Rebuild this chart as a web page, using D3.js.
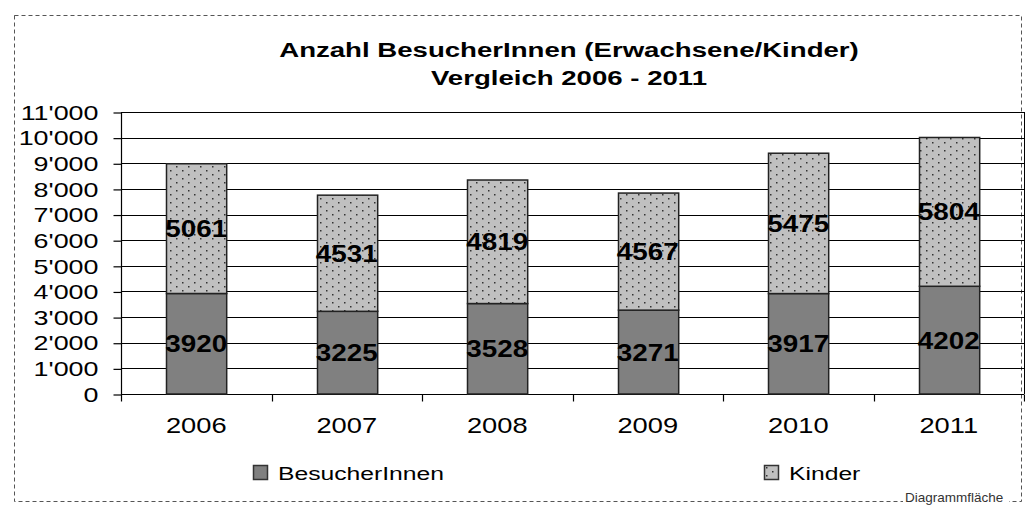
<!DOCTYPE html>
<html>
<head>
<meta charset="utf-8">
<script src="https://cdn.jsdelivr.net/npm/d3@7"></script>
<style>
  body { margin: 0; background: #fff; }
  svg { display: block; font-family: "Liberation Sans", Arial, sans-serif; }
</style>
</head>
<body>
<svg id="chart" width="1025" height="509"></svg>
<script>
const years = ["2006", "2007", "2008", "2009", "2010", "2011"];
const besucher = [3920, 3225, 3528, 3271, 3917, 4202];
const kinder = [5061, 4531, 4819, 4567, 5475, 5804];
const yTicks = [0, 1000, 2000, 3000, 4000, 5000, 6000, 7000, 8000, 9000, 10000, 11000];
const seriesNames = ["BesucherInnen", "Kinder"];

const svg = d3.select("#chart");
const m = { left: 121, right: 1024, top: 112, bottom: 394 };

// the original text is drawn a bit wide, stretch horizontally around the anchor
const stretch = (sel, s) => {
  sel.each(function () {
    const t = d3.select(this);
    const ax = +t.attr("x") || 0;
    t.attr("transform", `translate(${ax},0) scale(${s},1) translate(${-ax},0)`);
  });
};

// dotted fill like the old spreadsheet pattern
const defs = svg.append("defs");
const pat = defs.append("pattern")
  .attr("id", "dots")
  .attr("patternUnits", "userSpaceOnUse")
  .attr("width", 12).attr("height", 8);
pat.append("rect").attr("width", 12).attr("height", 8).attr("fill", "#c0c0c0");
pat.append("rect").attr("x", 2).attr("y", 2).attr("width", 1.5).attr("height", 1.5).attr("fill", "#333");
pat.append("rect").attr("x", 8).attr("y", 6).attr("width", 1.5).attr("height", 1.5).attr("fill", "#333");

// outer dashed frame (Diagrammfläche)
svg.append("rect")
  .attr("x", 14.5).attr("y", 15.5)
  .attr("width", 1007).attr("height", 486)
  .attr("fill", "none")
  .attr("stroke", "#555")
  .attr("stroke-dasharray", "4,3");

svg.append("rect")
  .attr("x", 903).attr("y", 489)
  .attr("width", 106).attr("height", 18)
  .attr("fill", "#fff");
svg.append("text")
  .attr("x", 905).attr("y", 502)
  .attr("font-size", 13.5)
  .attr("fill", "#333")
  .text("Diagrammfläche");

// title
const title = svg.append("text")
  .attr("x", 569)
  .attr("text-anchor", "middle")
  .attr("font-weight", "bold")
  .attr("font-size", 20)
  .attr("fill", "#000");
title.append("tspan").attr("x", 569).attr("y", 57).text("Anzahl BesucherInnen (Erwachsene/Kinder)");
title.append("tspan").attr("x", 569).attr("y", 85).text("Vergleich 2006 - 2011");
stretch(title, 1.38);

const x = d3.scaleBand().domain(years).range([m.left, m.right]).paddingInner(0.6).paddingOuter(0.3);
const y = d3.scaleLinear().domain([0, 11000]).range([m.bottom, m.top]);

// gridlines
svg.append("g")
  .selectAll("line")
  .data(yTicks)
  .join("line")
  .attr("x1", m.left).attr("x2", m.right)
  .attr("y1", d => Math.round(y(d)) + 0.5)
  .attr("y2", d => Math.round(y(d)) + 0.5)
  .attr("stroke", "#000")
  .attr("stroke-width", 1.2);

// right border of plot area
svg.append("line")
  .attr("x1", m.right + 0.5).attr("x2", m.right + 0.5)
  .attr("y1", m.top).attr("y2", m.bottom)
  .attr("stroke", "#000");

const fmt = d => d3.format(",")(d).replace(/,/g, "'");

const yAxis = svg.append("g")
  .attr("transform", `translate(${m.left + 0.5},0.5)`)
  .call(d3.axisLeft(y).tickValues(yTicks).tickFormat(fmt).tickSize(8).tickPadding(15));
yAxis.selectAll("text").attr("font-size", 21).attr("fill", "#000").attr("font-family", "Liberation Sans, Arial, sans-serif");
yAxis.selectAll("line, path").attr("stroke", "#000").attr("stroke-width", 1.2);
yAxis.select("path").attr("d", `M0,${m.top}V${m.bottom}`);
stretch(yAxis.selectAll("text"), 1.28);

// x axis with ticks between categories
const xAxisG = svg.append("g").attr("transform", `translate(0,${Math.round(y(0)) + 0.5})`);
xAxisG.append("line")
  .attr("x1", m.left).attr("x2", m.right)
  .attr("stroke", "#000").attr("stroke-width", 1.2);
xAxisG.selectAll(".tk")
  .data(d3.range(years.length + 1))
  .join("line")
  .attr("class", "tk")
  .attr("x1", i => Math.round(m.left + i * (m.right - m.left) / years.length) + 0.5)
  .attr("x2", i => Math.round(m.left + i * (m.right - m.left) / years.length) + 0.5)
  .attr("y1", 0).attr("y2", 7)
  .attr("stroke", "#000").attr("stroke-width", 1.2);
const xl = xAxisG.selectAll(".lbl")
  .data(years)
  .join("text")
  .attr("class", "lbl")
  .attr("x", d => x(d) + x.bandwidth() / 2)
  .attr("y", 39)
  .attr("text-anchor", "middle")
  .attr("font-size", 22)
  .attr("fill", "#000")
  .text(d => d);
stretch(xl, 1.24);

// stacked bars
const rows = years.map((yr, i) => ({ year: yr, BesucherInnen: besucher[i], Kinder: kinder[i] }));
const stacked = d3.stack().keys(seriesNames)(rows);
const fills = { BesucherInnen: "#808080", Kinder: "url(#dots)" };

const layers = svg.append("g")
  .selectAll("g")
  .data(stacked)
  .join("g")
  .attr("fill", d => fills[d.key]);

layers.selectAll("rect")
  .data(d => d)
  .join("rect")
  .attr("x", d => Math.round(x(d.data.year)) + 0.5)
  .attr("width", x.bandwidth())
  .attr("y", d => y(d[1]))
  .attr("height", d => y(d[0]) - y(d[1]))
  .attr("stroke", "#222")
  .attr("stroke-width", 1.5);

const vals = layers.selectAll("text")
  .data(d => d.map(v => ({ v, key: d.key })))
  .join("text")
  .attr("x", d => x(d.v.data.year) + x.bandwidth() / 2)
  .attr("y", d => (y(d.v[0]) + y(d.v[1])) / 2 + 8.5)
  .attr("text-anchor", "middle")
  .attr("font-weight", "bold")
  .attr("font-size", 24)
  .attr("fill", "#000")
  .text(d => d.v.data[d.key]);
stretch(vals, 1.16);

// legend
const legend = [
  { name: "BesucherInnen", x: 253, fill: "#808080" },
  { name: "Kinder", x: 764, fill: "url(#dots)" }
];
const lg = svg.append("g").selectAll("g").data(legend).join("g")
  .attr("transform", d => `translate(${d.x},465)`);
lg.append("rect")
  .attr("x", 0.5).attr("y", 0.5)
  .attr("width", 14).attr("height", 14)
  .attr("fill", d => d.fill)
  .attr("stroke", "#333").attr("stroke-width", 1.5);
const lt = lg.append("text")
  .attr("x", 25).attr("y", 15)
  .attr("font-size", 19)
  .attr("fill", "#000")
  .text(d => d.name);
stretch(lt, 1.3);
</script>
</body>
</html>
